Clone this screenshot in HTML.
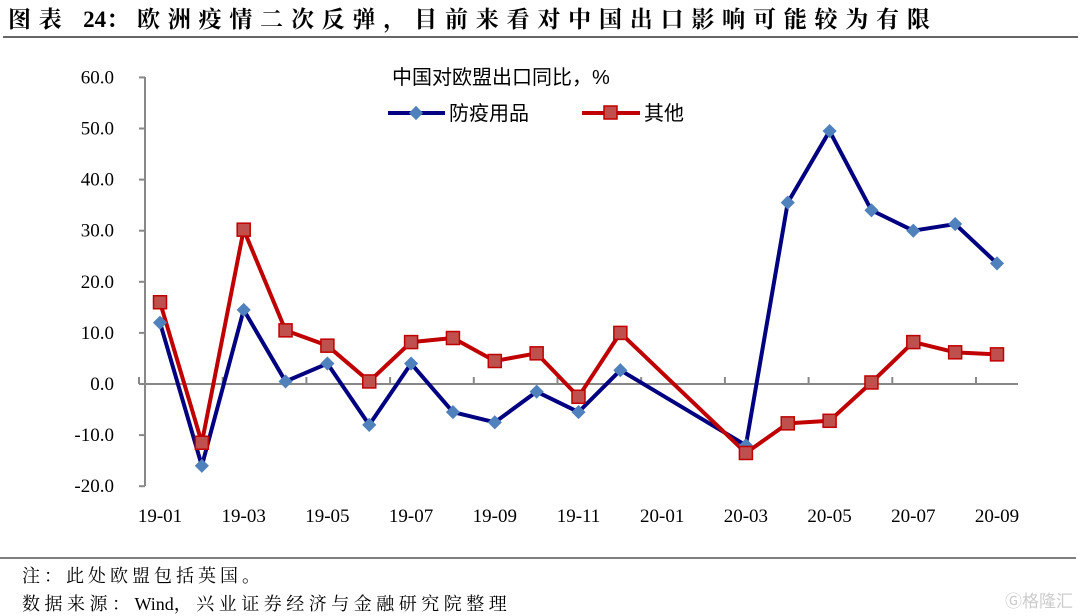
<!DOCTYPE html>
<html><head><meta charset="utf-8"><style>
body{margin:0;background:#fff;width:1080px;height:616px;overflow:hidden}
svg{display:block}
</style></head><body>
<svg width="1080" height="616" xmlns="http://www.w3.org/2000/svg">
<text x="8" y="27" font-family="'Liberation Serif','Noto Serif CJK SC',serif" font-weight="bold" font-size="23" letter-spacing="7.8" fill="#000">图表 <tspan letter-spacing="0">24</tspan>：欧洲疫情二次反弹，目前来看对中国出口影响可能较为有限</text>
<line x1="3" y1="37" x2="1078" y2="37" stroke="#333" stroke-width="1.5"/>
<g stroke="#888" stroke-width="2" fill="none">
<line x1="145" y1="77" x2="145" y2="486"/>
<line x1="139" y1="384" x2="1018" y2="384"/>
</g>
<g stroke="#888" stroke-width="2" id="yt"></g>
<g font-family="'Liberation Serif',serif" font-size="19" fill="#000" text-anchor="end" id="yl"></g>
<g font-family="'Liberation Serif',serif" font-size="19" fill="#000" text-anchor="middle" id="xl"></g>
<g stroke="#888" stroke-width="2" id="xt"></g>
<text x="392" y="84" font-family="'Liberation Sans','Noto Sans CJK SC',sans-serif" font-size="20" fill="#000">中国对欧盟出口同比，%</text>
<line x1="388" y1="113" x2="445" y2="113" stroke="#000080" stroke-width="4"/>
<rect x="411" y="108" width="10" height="10" fill="#4f81bd" transform="rotate(45 416 113)"/>
<text x="449" y="120" font-family="'Liberation Sans','Noto Sans CJK SC',sans-serif" font-size="20" fill="#000">防疫用品</text>
<line x1="582" y1="113" x2="640" y2="113" stroke="#c00000" stroke-width="4"/>
<rect x="604" y="106" width="13" height="13" fill="#c0504d" stroke="#c00000" stroke-width="1.5"/>
<text x="644" y="120" font-family="'Liberation Sans','Noto Sans CJK SC',sans-serif" font-size="20" fill="#000">其他</text>
<polyline id="blue" fill="none" stroke="#000080" stroke-width="4" stroke-linejoin="round"/>
<polyline id="red" fill="none" stroke="#c00000" stroke-width="4" stroke-linejoin="round"/>
<g id="bm" fill="#4f81bd"></g>
<g id="rm" fill="#c0504d" stroke="#c00000" stroke-width="1.5"></g>
<line x1="0" y1="558" x2="1076" y2="558" stroke="#555" stroke-width="1.5"/>
<text x="22" y="582" font-family="'Liberation Serif','Noto Serif CJK SC',serif" font-size="18" letter-spacing="4" fill="#000">注：此处欧盟包括英国。</text>
<text x="22" y="610" font-family="'Liberation Serif','Noto Serif CJK SC',serif" font-size="18" letter-spacing="4.5" fill="#000">数据来源：<tspan letter-spacing="0">Wind</tspan>，兴业证券经济与金融研究院整理</text>
<text x="1005" y="607" font-family="'Liberation Sans','Noto Sans CJK SC',sans-serif" font-size="17" fill="#ccc">Ⓖ格隆汇</text>
</svg>
<script>
var ns="http://www.w3.org/2000/svg";
function el(p,t,a,txt){var e=document.createElementNS(ns,t);for(var k in a)e.setAttribute(k,a[k]);if(txt)e.textContent=txt;document.getElementById(p).appendChild(e);}
function Y(v){return 384-v*5.11;}
function X(i){return 160+i*41.85;}
for(var v=-20;v<=60;v+=10){el("yt","line",{x1:139,x2:145,y1:Y(v),y2:Y(v)});el("yl","text",{x:114,y:Y(v)+6},v.toFixed(1));}
var labs=["19-01","19-03","19-05","19-07","19-09","19-11","20-01","20-03","20-05","20-07","20-09"];
for(var k=0;k<labs.length;k++){el("xl","text",{x:X(2*k),y:522},labs[k]);}
for(var k=0;k<=10;k++){var x=139+2*k*41.85;el("xt","line",{x1:x,x2:x,y1:384,y2:377});}
var idx=[0,1,2,3,4,5,6,7,8,9,10,11,14,15,16,17,18,19,20];
var b=[12,-16,14.5,0.5,4,-8,4,-5.5,-7.5,-1.5,-5.5,2.7,-12,35.5,49.5,34,30,31.3,23.6];
var r=[16,-11.5,30.2,10.5,7.5,0.5,8.2,9,4.5,6,-2.5,10,-13.5,-7.7,-7.2,0.3,8.2,6.2,5.8];
var pb=[],pr=[];
for(var i=0;i<idx.length;i++){var x=X(idx[i]);pb.push(x+","+Y(b[i]));pr.push(x+","+Y(r[i]));}
document.getElementById("blue").setAttribute("points",pb.join(" "));
document.getElementById("red").setAttribute("points",pr.join(" "));
for(var i=0;i<idx.length;i++){var x=X(idx[i]);
el("bm","rect",{x:x-5,y:Y(b[i])-5,width:10,height:10,transform:"rotate(45 "+x+" "+Y(b[i])+")"});
el("rm","rect",{x:x-6.5,y:Y(r[i])-6.5,width:13,height:13});}
</script>
</body></html>
